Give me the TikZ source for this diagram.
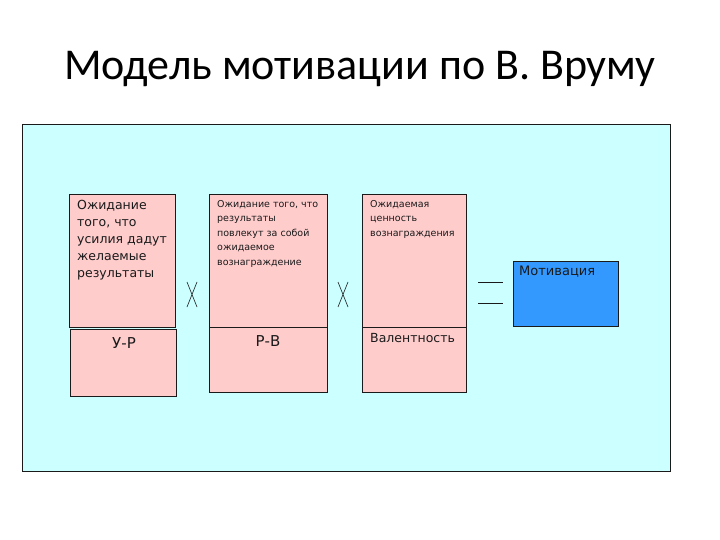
\documentclass[tikz,border=0pt]{standalone}
\usepackage{fontspec}
\setmainfont{DejaVu Sans}
\newfontfamily\titlefont{Carlito}
\usetikzlibrary{positioning}
\definecolor{slidebg}{HTML}{CCFFFF}
\definecolor{cellpink}{HTML}{FFCCCC}
\definecolor{motblue}{HTML}{3399FF}
\definecolor{ink}{HTML}{1A1A1A}

\begin{document}
\begin{tikzpicture}[x=1pt,y=-1pt,
  cell/.style={draw=ink,fill=cellpink,line width=.8pt,anchor=north west,inner sep=0pt},
  celltext/.style={anchor=north west,align=left,inner sep=0pt,text=ink},
  opsign/.style={inner sep=0pt,outer sep=0pt}]
\useasboundingbox (0,0) rectangle (720,540);

% ---------- title and panel ----------
\node[font=\titlefont\fontsize{44}{52}\selectfont] (title) at (360,69) {Модель мотивации по В.~Вруму};
\node[draw=ink,fill=slidebg,line width=.8pt,anchor=north west,inner sep=0pt,
      minimum width=648pt,minimum height=347pt] (panel) at (22,124) {};

% ---------- effort -> result ----------
\node[cell,minimum width=106pt,minimum height=133pt] (ur) at (69,194) {};
\node[cell,minimum width=106pt,minimum height=67pt] (urv) at (70,329) {};
\node[celltext,font=\fontsize{12.5}{17}\selectfont] (urtxt) at (77,200)
  {Ожидание\\того, что\\усилия дадут\\желаемые\\результаты};
\node[font=\fontsize{15}{17}\selectfont,text=ink] (urlab) at (124,343) {У-Р};

% ---------- result -> reward ----------
\node[cell,minimum width=118pt,minimum height=133pt] (rv) at (209,194) {};
\node[cell,minimum width=118pt,minimum height=65pt] (rvv) at (209,327) {};
\node[celltext,font=\fontsize{9.5}{14.5}\selectfont] (rvtxt) at (217,200)
  {Ожидание того, что\\результаты\\повлекут за собой\\ожидаемое\\вознаграждение};
\node[font=\fontsize{15}{17}\selectfont,text=ink] (rvlab) at (268,341) {Р-В};

% ---------- valence ----------
\node[cell,minimum width=104pt,minimum height=133pt] (val) at (362,194) {};
\node[cell,minimum width=104pt,minimum height=65pt] (valv) at (362,327) {};
\node[celltext,font=\fontsize{9.5}{14.5}\selectfont] (valtxt) at (370,200)
  {Ожидаемая\\ценность\\вознаграждения};
\node[celltext,font=\fontsize{12.5}{14}\selectfont] (vallab) at (370,333) {Валентность};

% ---------- motivation ----------
\node[draw=ink,fill=motblue,line width=.8pt,anchor=north west,inner sep=0pt,
      minimum width=105pt,minimum height=65pt] (mot) at (513,261) {};
\node[celltext,font=\fontsize{13}{15}\selectfont] (mottxt) at (519,266) {Мотивация};

% ---------- operators ----------
\node[opsign,minimum width=10pt,minimum height=25pt] (mul1) at (192,294.5) {};
\node[opsign,minimum width=10pt,minimum height=25pt] (mul2) at (343,294.5) {};
\foreach \m in {mul1,mul2}
  \draw[ink,line width=.6pt] (\m.north west) -- (\m.south east) (\m.north east) -- (\m.south west);
\node[opsign,minimum width=25pt,minimum height=21pt] (eq) at (490.5,292.5) {};
\draw[ink,line width=.8pt] (eq.north west) -- (eq.north east) (eq.south west) -- (eq.south east);
\end{tikzpicture}
\end{document}
